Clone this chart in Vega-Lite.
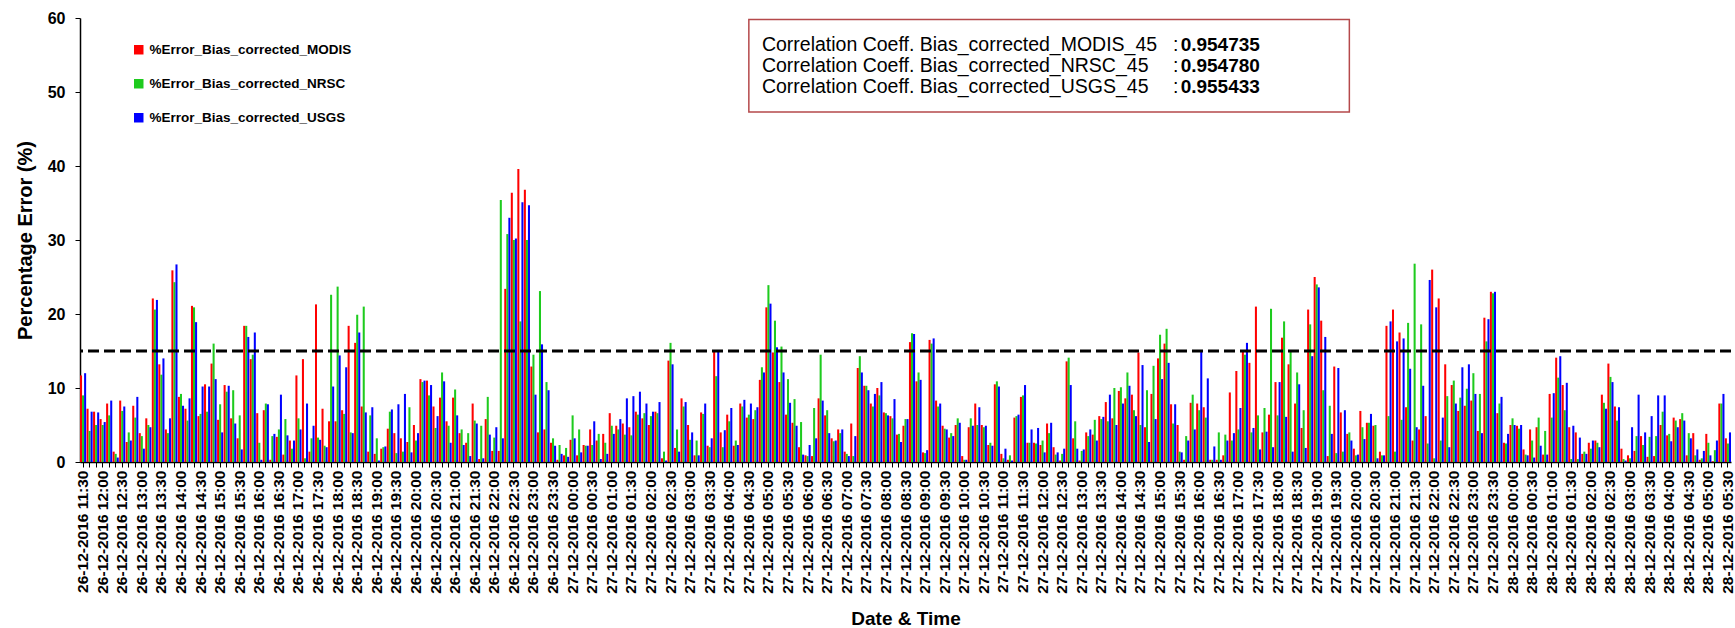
{
 "$schema": "https://vega.github.io/schema/vega-lite/v6.json",
 "width": 1651, "height": 444,
 "autosize": {"type": "none"},
 "padding": {"left": 80, "top": 18, "right": 4, "bottom": 166},
 "background": "white",
 "config": {"view": {"stroke": null}, "font": "Liberation Sans"},
 "data": {"values": [
{"t":"26-12-2016 11:30","M":11.7,"N":9.0,"U":12.0},
{"t":"26-12-2016 11:40","M":7.2,"N":4.2,"U":6.8},
{"t":"26-12-2016 11:50","M":6.8,"N":5.0,"U":6.7},
{"t":"26-12-2016 12:00","M":5.8,"N":5.0,"U":5.4},
{"t":"26-12-2016 12:10","M":7.9,"N":6.3,"U":8.3},
{"t":"26-12-2016 12:20","M":1.4,"N":1.1,"U":0.6},
{"t":"26-12-2016 12:30","M":8.3,"N":6.9,"U":7.5},
{"t":"26-12-2016 12:40","M":2.7,"N":4.0,"U":2.9},
{"t":"26-12-2016 12:50","M":7.6,"N":6.0,"U":8.8},
{"t":"26-12-2016 13:00","M":3.9,"N":3.5,"U":1.8},
{"t":"26-12-2016 13:10","M":5.9,"N":5.0,"U":4.7},
{"t":"26-12-2016 13:20","M":22.1,"N":20.6,"U":21.9},
{"t":"26-12-2016 13:30","M":13.2,"N":11.8,"U":14.0},
{"t":"26-12-2016 13:40","M":4.4,"N":3.9,"U":5.9},
{"t":"26-12-2016 13:50","M":25.9,"N":24.3,"U":26.7},
{"t":"26-12-2016 14:00","M":8.8,"N":9.2,"U":7.6},
{"t":"26-12-2016 14:10","M":7.2,"N":5.6,"U":8.6},
{"t":"26-12-2016 14:20","M":21.1,"N":20.9,"U":18.9},
{"t":"26-12-2016 14:30","M":6.2,"N":6.5,"U":10.2},
{"t":"26-12-2016 14:40","M":10.5,"N":6.8,"U":10.2},
{"t":"26-12-2016 14:50","M":13.3,"N":16.0,"U":11.2},
{"t":"26-12-2016 15:00","M":5.7,"N":7.8,"U":4.0},
{"t":"26-12-2016 15:10","M":10.4,"N":9.5,"U":10.3},
{"t":"26-12-2016 15:20","M":5.9,"N":9.7,"U":5.2},
{"t":"26-12-2016 15:30","M":3.2,"N":6.3,"U":1.7},
{"t":"26-12-2016 15:40","M":18.4,"N":18.4,"U":16.9},
{"t":"26-12-2016 15:50","M":13.9,"N":14.5,"U":17.5},
{"t":"26-12-2016 16:00","M":6.6,"N":2.6,"U":0.3},
{"t":"26-12-2016 16:10","M":7.0,"N":7.9,"U":7.8},
{"t":"26-12-2016 16:20","M":0.3,"N":3.5,"U":3.8},
{"t":"26-12-2016 16:30","M":3.4,"N":4.4,"U":9.1},
{"t":"26-12-2016 16:40","M":1.0,"N":5.8,"U":3.6},
{"t":"26-12-2016 16:50","M":2.9,"N":1.8,"U":2.9},
{"t":"26-12-2016 17:00","M":11.7,"N":5.9,"U":4.4},
{"t":"26-12-2016 17:10","M":13.9,"N":0.5,"U":7.9},
{"t":"26-12-2016 17:20","M":1.4,"N":3.2,"U":4.9},
{"t":"26-12-2016 17:30","M":21.3,"N":3.3,"U":3.0},
{"t":"26-12-2016 17:40","M":7.2,"N":2.2,"U":2.0},
{"t":"26-12-2016 17:50","M":5.5,"N":22.6,"U":10.2},
{"t":"26-12-2016 18:00","M":5.5,"N":23.7,"U":14.4},
{"t":"26-12-2016 18:10","M":7.0,"N":6.5,"U":12.8},
{"t":"26-12-2016 18:20","M":18.4,"N":4.0,"U":3.9},
{"t":"26-12-2016 18:30","M":16.1,"N":19.9,"U":17.5},
{"t":"26-12-2016 18:40","M":7.5,"N":21.0,"U":6.7},
{"t":"26-12-2016 18:50","M":1.4,"N":6.3,"U":7.4},
{"t":"26-12-2016 19:00","M":1.1,"N":3.2,"U":0.2},
{"t":"26-12-2016 19:10","M":1.8,"N":2.0,"U":2.1},
{"t":"26-12-2016 19:20","M":4.5,"N":6.8,"U":7.1},
{"t":"26-12-2016 19:30","M":3.9,"N":1.2,"U":7.8},
{"t":"26-12-2016 19:40","M":3.2,"N":1.4,"U":9.2},
{"t":"26-12-2016 19:50","M":2.7,"N":7.4,"U":1.3},
{"t":"26-12-2016 20:00","M":5.0,"N":2.9,"U":3.9},
{"t":"26-12-2016 20:10","M":11.2,"N":10.8,"U":11.0},
{"t":"26-12-2016 20:20","M":11.0,"N":9.0,"U":10.4},
{"t":"26-12-2016 20:30","M":7.5,"N":4.6,"U":6.2},
{"t":"26-12-2016 20:40","M":8.7,"N":12.1,"U":10.9},
{"t":"26-12-2016 20:50","M":5.5,"N":4.9,"U":2.6},
{"t":"26-12-2016 21:00","M":8.7,"N":9.8,"U":6.3},
{"t":"26-12-2016 21:10","M":3.9,"N":4.4,"U":2.3},
{"t":"26-12-2016 21:20","M":2.6,"N":3.9,"U":0.8},
{"t":"26-12-2016 21:30","M":7.9,"N":5.6,"U":5.2},
{"t":"26-12-2016 21:40","M":0.4,"N":4.9,"U":0.5},
{"t":"26-12-2016 21:50","M":5.8,"N":8.8,"U":3.7},
{"t":"26-12-2016 22:00","M":1.5,"N":3.3,"U":4.7},
{"t":"26-12-2016 22:10","M":1.5,"N":35.4,"U":3.2},
{"t":"26-12-2016 22:20","M":23.4,"N":30.8,"U":33.0},
{"t":"26-12-2016 22:30","M":36.4,"N":30.0,"U":30.2},
{"t":"26-12-2016 22:40","M":39.6,"N":19.0,"U":35.1},
{"t":"26-12-2016 22:50","M":36.8,"N":30.0,"U":34.7},
{"t":"26-12-2016 23:00","M":12.9,"N":14.5,"U":9.1},
{"t":"26-12-2016 23:10","M":4.0,"N":23.1,"U":15.9},
{"t":"26-12-2016 23:20","M":4.4,"N":10.8,"U":9.7},
{"t":"26-12-2016 23:30","M":2.6,"N":3.2,"U":2.2},
{"t":"26-12-2016 23:40","M":0.3,"N":2.3,"U":1.1},
{"t":"26-12-2016 23:50","M":0.9,"N":1.9,"U":0.7},
{"t":"27-12-2016 00:00","M":3.0,"N":6.3,"U":3.2},
{"t":"27-12-2016 00:10","M":0.9,"N":4.4,"U":1.3},
{"t":"27-12-2016 00:20","M":2.3,"N":2.2,"U":2.2},
{"t":"27-12-2016 00:30","M":4.4,"N":2.3,"U":5.5},
{"t":"27-12-2016 00:40","M":2.9,"N":3.8,"U":0.4},
{"t":"27-12-2016 00:50","M":3.8,"N":2.6,"U":1.1},
{"t":"27-12-2016 01:00","M":6.6,"N":4.9,"U":3.8},
{"t":"27-12-2016 01:10","M":4.9,"N":4.4,"U":5.8},
{"t":"27-12-2016 01:20","M":5.2,"N":3.7,"U":8.6},
{"t":"27-12-2016 01:30","M":4.7,"N":3.6,"U":8.9},
{"t":"27-12-2016 01:40","M":6.8,"N":6.4,"U":9.5},
{"t":"27-12-2016 01:50","M":5.9,"N":6.6,"U":7.9},
{"t":"27-12-2016 02:00","M":5.0,"N":6.2,"U":6.8},
{"t":"27-12-2016 02:10","M":6.8,"N":6.6,"U":8.1},
{"t":"27-12-2016 02:20","M":0.5,"N":1.4,"U":0.2},
{"t":"27-12-2016 02:30","M":13.7,"N":16.1,"U":13.2},
{"t":"27-12-2016 02:40","M":1.9,"N":4.4,"U":1.4},
{"t":"27-12-2016 02:50","M":8.6,"N":7.5,"U":8.1},
{"t":"27-12-2016 03:00","M":5.0,"N":3.0,"U":4.0},
{"t":"27-12-2016 03:10","M":0.9,"N":2.9,"U":0.9},
{"t":"27-12-2016 03:20","M":6.7,"N":6.5,"U":7.9},
{"t":"27-12-2016 03:30","M":2.2,"N":2.0,"U":3.2},
{"t":"27-12-2016 03:40","M":15.1,"N":11.6,"U":14.9},
{"t":"27-12-2016 03:50","M":4.0,"N":2.0,"U":4.3},
{"t":"27-12-2016 04:00","M":6.4,"N":5.5,"U":7.3},
{"t":"27-12-2016 04:10","M":2.2,"N":2.9,"U":2.3},
{"t":"27-12-2016 04:20","M":7.9,"N":7.5,"U":8.4},
{"t":"27-12-2016 04:30","M":6.0,"N":6.4,"U":7.9},
{"t":"27-12-2016 04:40","M":5.8,"N":7.0,"U":7.4},
{"t":"27-12-2016 04:50","M":11.1,"N":12.8,"U":12.1},
{"t":"27-12-2016 05:00","M":20.9,"N":23.9,"U":21.4},
{"t":"27-12-2016 05:10","M":14.8,"N":19.1,"U":15.5},
{"t":"27-12-2016 05:20","M":10.8,"N":15.6,"U":12.1},
{"t":"27-12-2016 05:30","M":6.4,"N":11.2,"U":8.0},
{"t":"27-12-2016 05:40","M":5.3,"N":8.5,"U":4.9},
{"t":"27-12-2016 05:50","M":2.0,"N":5.4,"U":1.0},
{"t":"27-12-2016 06:00","M":0.9,"N":0.8,"U":2.3},
{"t":"27-12-2016 06:10","M":0.8,"N":7.3,"U":3.2},
{"t":"27-12-2016 06:20","M":8.6,"N":14.5,"U":8.3},
{"t":"27-12-2016 06:30","M":6.3,"N":7.0,"U":3.9},
{"t":"27-12-2016 06:40","M":3.2,"N":2.8,"U":2.9},
{"t":"27-12-2016 06:50","M":4.4,"N":3.9,"U":4.4},
{"t":"27-12-2016 07:00","M":1.4,"N":1.1,"U":0.8},
{"t":"27-12-2016 07:10","M":5.2,"N":0.8,"U":3.5},
{"t":"27-12-2016 07:20","M":12.7,"N":14.3,"U":12.1},
{"t":"27-12-2016 07:30","M":10.3,"N":10.3,"U":9.7},
{"t":"27-12-2016 07:40","M":7.9,"N":7.5,"U":9.2},
{"t":"27-12-2016 07:50","M":10.0,"N":9.0,"U":10.8},
{"t":"27-12-2016 08:00","M":6.7,"N":6.6,"U":6.3},
{"t":"27-12-2016 08:10","M":6.2,"N":5.9,"U":8.5},
{"t":"27-12-2016 08:20","M":3.7,"N":3.8,"U":2.7},
{"t":"27-12-2016 08:30","M":4.9,"N":5.8,"U":5.8},
{"t":"27-12-2016 08:40","M":16.2,"N":17.4,"U":17.3},
{"t":"27-12-2016 08:50","M":10.9,"N":12.1,"U":11.1},
{"t":"27-12-2016 09:00","M":1.3,"N":1.2,"U":1.6},
{"t":"27-12-2016 09:10","M":16.5,"N":16.0,"U":16.7},
{"t":"27-12-2016 09:20","M":8.3,"N":7.5,"U":7.9},
{"t":"27-12-2016 09:30","M":4.9,"N":4.5,"U":4.4},
{"t":"27-12-2016 09:40","M":3.3,"N":3.9,"U":3.5},
{"t":"27-12-2016 09:50","M":5.0,"N":5.9,"U":5.3},
{"t":"27-12-2016 10:00","M":0.8,"N":0.3,"U":0.3},
{"t":"27-12-2016 10:10","M":4.7,"N":5.9,"U":4.9},
{"t":"27-12-2016 10:20","M":7.9,"N":5.0,"U":7.4},
{"t":"27-12-2016 10:30","M":5.0,"N":4.7,"U":4.9},
{"t":"27-12-2016 10:40","M":2.3,"N":2.6,"U":2.2},
{"t":"27-12-2016 10:50","M":10.5,"N":10.9,"U":10.2},
{"t":"27-12-2016 11:00","M":1.1,"N":0.5,"U":1.8},
{"t":"27-12-2016 11:10","M":0.3,"N":0.9,"U":0.2},
{"t":"27-12-2016 11:20","M":6.0,"N":6.2,"U":6.4},
{"t":"27-12-2016 11:30","M":8.8,"N":9.0,"U":10.4},
{"t":"27-12-2016 11:40","M":2.6,"N":2.6,"U":4.4},
{"t":"27-12-2016 11:50","M":2.6,"N":2.5,"U":4.6},
{"t":"27-12-2016 12:00","M":2.3,"N":2.9,"U":1.3},
{"t":"27-12-2016 12:10","M":5.2,"N":3.9,"U":5.3},
{"t":"27-12-2016 12:20","M":2.0,"N":1.0,"U":1.3},
{"t":"27-12-2016 12:30","M":0.2,"N":1.1,"U":1.8},
{"t":"27-12-2016 12:40","M":13.6,"N":14.1,"U":10.4},
{"t":"27-12-2016 12:50","M":3.2,"N":5.5,"U":1.8},
{"t":"27-12-2016 13:00","M":0.2,"N":1.5,"U":1.7},
{"t":"27-12-2016 13:10","M":4.0,"N":3.5,"U":4.4},
{"t":"27-12-2016 13:20","M":3.7,"N":5.7,"U":2.9},
{"t":"27-12-2016 13:30","M":6.2,"N":5.8,"U":6.1},
{"t":"27-12-2016 13:40","M":8.1,"N":5.5,"U":9.1},
{"t":"27-12-2016 13:50","M":5.9,"N":10.0,"U":5.0},
{"t":"27-12-2016 14:00","M":9.6,"N":10.1,"U":7.9},
{"t":"27-12-2016 14:10","M":8.6,"N":12.1,"U":10.3},
{"t":"27-12-2016 14:20","M":9.1,"N":7.0,"U":6.2},
{"t":"27-12-2016 14:30","M":14.8,"N":5.0,"U":13.1},
{"t":"27-12-2016 14:40","M":4.7,"N":9.7,"U":2.7},
{"t":"27-12-2016 14:50","M":9.2,"N":13.0,"U":5.8},
{"t":"27-12-2016 15:00","M":14.0,"N":17.2,"U":11.2},
{"t":"27-12-2016 15:10","M":16.0,"N":18.0,"U":13.4},
{"t":"27-12-2016 15:20","M":7.8,"N":5.2,"U":7.8},
{"t":"27-12-2016 15:30","M":5.0,"N":1.4,"U":1.3},
{"t":"27-12-2016 15:40","M":0.3,"N":3.5,"U":2.9},
{"t":"27-12-2016 15:50","M":8.0,"N":9.1,"U":4.4},
{"t":"27-12-2016 16:00","M":7.9,"N":7.0,"U":14.9},
{"t":"27-12-2016 16:10","M":7.4,"N":6.0,"U":11.3},
{"t":"27-12-2016 16:20","M":0.3,"N":0.3,"U":2.1},
{"t":"27-12-2016 16:30","M":0.3,"N":4.0,"U":0.3},
{"t":"27-12-2016 16:40","M":0.9,"N":3.7,"U":2.9},
{"t":"27-12-2016 16:50","M":9.4,"N":2.9,"U":3.9},
{"t":"27-12-2016 17:00","M":12.3,"N":4.4,"U":7.3},
{"t":"27-12-2016 17:10","M":15.0,"N":14.5,"U":16.1},
{"t":"27-12-2016 17:20","M":13.4,"N":4.0,"U":4.6},
{"t":"27-12-2016 17:30","M":21.0,"N":6.3,"U":1.7},
{"t":"27-12-2016 17:40","M":4.0,"N":7.3,"U":4.1},
{"t":"27-12-2016 17:50","M":6.4,"N":20.7,"U":2.0},
{"t":"27-12-2016 18:00","M":10.8,"N":6.3,"U":10.8},
{"t":"27-12-2016 18:10","M":16.8,"N":19.0,"U":6.1},
{"t":"27-12-2016 18:20","M":13.2,"N":14.9,"U":1.4},
{"t":"27-12-2016 18:30","M":7.9,"N":12.1,"U":10.5},
{"t":"27-12-2016 18:40","M":4.6,"N":7.0,"U":1.9},
{"t":"27-12-2016 18:50","M":20.6,"N":18.6,"U":14.3},
{"t":"27-12-2016 19:00","M":25.0,"N":24.0,"U":23.6},
{"t":"27-12-2016 19:10","M":19.1,"N":9.7,"U":16.9},
{"t":"27-12-2016 19:20","M":0.8,"N":7.6,"U":3.8},
{"t":"27-12-2016 19:30","M":12.9,"N":1.2,"U":12.7},
{"t":"27-12-2016 19:40","M":6.7,"N":1.4,"U":7.0},
{"t":"27-12-2016 19:50","M":3.8,"N":4.0,"U":2.9},
{"t":"27-12-2016 20:00","M":1.8,"N":0.9,"U":1.0},
{"t":"27-12-2016 20:10","M":6.9,"N":4.7,"U":3.1},
{"t":"27-12-2016 20:20","M":5.3,"N":5.3,"U":6.5},
{"t":"27-12-2016 20:30","M":4.9,"N":5.0,"U":0.5},
{"t":"27-12-2016 20:40","M":1.4,"N":0.9,"U":0.9},
{"t":"27-12-2016 20:50","M":18.4,"N":6.2,"U":19.0},
{"t":"27-12-2016 21:00","M":20.6,"N":1.4,"U":16.3},
{"t":"27-12-2016 21:10","M":17.5,"N":5.7,"U":16.7},
{"t":"27-12-2016 21:20","M":7.4,"N":18.8,"U":12.6},
{"t":"27-12-2016 21:30","M":2.9,"N":26.8,"U":4.7},
{"t":"27-12-2016 21:40","M":4.4,"N":18.6,"U":10.3},
{"t":"27-12-2016 21:50","M":6.2,"N":2.5,"U":24.6},
{"t":"27-12-2016 22:00","M":26.0,"N":0.5,"U":20.9},
{"t":"27-12-2016 22:10","M":22.1,"N":2.9,"U":6.0},
{"t":"27-12-2016 22:20","M":13.2,"N":8.9,"U":2.0},
{"t":"27-12-2016 22:30","M":10.4,"N":11.0,"U":7.9},
{"t":"27-12-2016 22:40","M":6.9,"N":8.7,"U":12.8},
{"t":"27-12-2016 22:50","M":7.6,"N":9.9,"U":13.2},
{"t":"27-12-2016 23:00","M":8.3,"N":12.0,"U":9.2},
{"t":"27-12-2016 23:10","M":4.2,"N":9.2,"U":3.9},
{"t":"27-12-2016 23:20","M":19.5,"N":16.3,"U":19.3},
{"t":"27-12-2016 23:30","M":23.0,"N":22.8,"U":23.0},
{"t":"27-12-2016 23:40","M":6.6,"N":7.9,"U":8.8},
{"t":"27-12-2016 23:50","M":2.6,"N":2.5,"U":3.8},
{"t":"28-12-2016 00:00","M":5.0,"N":5.9,"U":5.0},
{"t":"28-12-2016 00:10","M":4.9,"N":4.5,"U":5.0},
{"t":"28-12-2016 00:20","M":1.7,"N":1.0,"U":0.9},
{"t":"28-12-2016 00:30","M":4.4,"N":2.9,"U":0.6},
{"t":"28-12-2016 00:40","M":4.7,"N":6.0,"U":2.2},
{"t":"28-12-2016 00:50","M":1.0,"N":4.2,"U":1.0},
{"t":"28-12-2016 01:00","M":9.2,"N":6.0,"U":9.3},
{"t":"28-12-2016 01:10","M":14.1,"N":11.4,"U":14.3},
{"t":"28-12-2016 01:20","M":10.4,"N":7.0,"U":10.7},
{"t":"28-12-2016 01:30","M":4.7,"N":0.4,"U":4.9},
{"t":"28-12-2016 01:40","M":4.0,"N":0.4,"U":3.3},
{"t":"28-12-2016 01:50","M":1.1,"N":1.4,"U":1.1},
{"t":"28-12-2016 02:00","M":2.6,"N":1.8,"U":2.9},
{"t":"28-12-2016 02:10","M":2.9,"N":2.6,"U":2.0},
{"t":"28-12-2016 02:20","M":9.1,"N":8.0,"U":7.2},
{"t":"28-12-2016 02:30","M":13.3,"N":11.5,"U":10.8},
{"t":"28-12-2016 02:40","M":7.5,"N":5.6,"U":7.4},
{"t":"28-12-2016 02:50","M":1.8,"N":0.4,"U":0.2},
{"t":"28-12-2016 03:00","M":0.9,"N":0.5,"U":4.7},
{"t":"28-12-2016 03:10","M":1.5,"N":3.5,"U":9.1},
{"t":"28-12-2016 03:20","M":3.5,"N":2.3,"U":4.0},
{"t":"28-12-2016 03:30","M":0.7,"N":3.4,"U":6.2},
{"t":"28-12-2016 03:40","M":0.8,"N":3.5,"U":9.0},
{"t":"28-12-2016 03:50","M":5.0,"N":6.8,"U":9.0},
{"t":"28-12-2016 04:00","M":3.6,"N":3.8,"U":2.8},
{"t":"28-12-2016 04:10","M":6.0,"N":5.6,"U":4.7},
{"t":"28-12-2016 04:20","M":5.8,"N":6.6,"U":5.6},
{"t":"28-12-2016 04:30","M":0.9,"N":3.9,"U":3.2},
{"t":"28-12-2016 04:40","M":3.9,"N":0.9,"U":1.7},
{"t":"28-12-2016 04:50","M":0.3,"N":0.5,"U":1.5},
{"t":"28-12-2016 05:00","M":3.8,"N":2.6,"U":0.9},
{"t":"28-12-2016 05:10","M":0.1,"N":1.6,"U":2.9},
{"t":"28-12-2016 05:20","M":7.9,"N":7.9,"U":9.2},
{"t":"28-12-2016 05:30","M":3.2,"N":2.5,"U":4.0}
 ]},
 "layer": [
  {
   "transform": [{"fold": ["M", "N", "U"], "as": ["s", "v"]}],
   "mark": {"type": "bar"},
   "encoding": {
    "x": {"field": "t", "type": "ordinal",
          "scale": {"paddingInner": 0.06, "paddingOuter": 0},
          "axis": {"title": "Date & Time", "titleFontSize": 19, "titleFontWeight": "bold", "titleColor": "black", "titlePadding": 16,
                   "labelAngle": -90, "labelFontSize": 15.5, "labelFontWeight": "bold", "labelColor": "black", "labelPadding": 3,
                   "labelOverlap": false, "labelBound": false, "labelFlush": false,
                   "labelExpr": "(slice(datum.label, -2) == '00' || slice(datum.label, -2) == '30') ? datum.label : ''",
                   "tickColor": "black", "tickSize": 5, "domainColor": "black", "domainWidth": 1.5}},
    "xOffset": {"field": "s", "type": "nominal", "scale": {"domain": ["M", "N", "U"], "paddingInner": 0}},
    "y": {"field": "v", "type": "quantitative", "scale": {"domain": [0, 60], "nice": false},
          "axis": {"title": "Percentage Error (%)", "titleFontSize": 20, "titleFontWeight": "bold", "titleColor": "black", "titlePadding": 12,
                   "values": [0, 5, 10, 15, 20, 25, 30, 35, 40, 45, 50, 55, 60], "grid": false,
                   "labelFontSize": 16, "labelFontWeight": "bold", "labelColor": "black", "labelPadding": 10,
                   "tickColor": "black", "tickSize": 5, "domainColor": "black", "domainWidth": 1.5}},
    "color": {"field": "s", "type": "nominal",
              "scale": {"domain": ["M", "N", "U"], "range": ["#ff0000", "#1ecb1e", "#0000ff"]},
              "legend": {"title": null, "orient": "none", "legendX": 52, "legendY": 25, "direction": "vertical",
                         "symbolType": "square", "symbolSize": 90, "symbolStrokeWidth": 0,
                         "labelFontSize": 13.5, "labelFontWeight": "bold", "labelColor": "black", "labelOffset": 4,
                         "labelLimit": 0, "rowPadding": 19,
                         "labelExpr": "datum.label == 'M' ? '%Error_Bias_corrected_MODIS' : (datum.label == 'N' ? '%Error_Bias_corrected_NRSC' : '%Error_Bias_corrected_USGS')"}}
   }
  },
  {
   "data": {"values": [{}]},
   "mark": {"type": "rule", "strokeDash": [11, 5], "strokeWidth": 3, "color": "black"},
   "encoding": {"y": {"datum": 15, "type": "quantitative"}}
  },
  {
   "data": {"values": [{}]},
   "mark": {"type": "rect", "fill": "white", "stroke": "#b5494b", "strokeWidth": 1.5},
   "encoding": {
    "x": {"datum": "27-12-2016 04:30", "type": "ordinal"},
    "x2": {"datum": "27-12-2016 19:50"},
    "y": {"datum": 59.8, "type": "quantitative"},
    "y2": {"datum": 47.3}
   }
  },
  {
   "data": {"values": [{}]},
   "mark": {"type": "text", "text": ["Correlation Coeff. Bias_corrected_MODIS_45", "Correlation Coeff. Bias_corrected_NRSC_45", "Correlation Coeff. Bias_corrected_USGS_45"],
            "align": "left", "baseline": "middle", "lineHeight": 21, "fontSize": 19.5, "color": "black"},
   "encoding": {"x": {"datum": "27-12-2016 04:50", "type": "ordinal"}, "y": {"datum": 56.3, "type": "quantitative"}}
  },
  {
   "data": {"values": [{}]},
   "mark": {"type": "text", "text": [":", ":", ":"],
            "align": "left", "baseline": "middle", "lineHeight": 21, "fontSize": 19.5, "color": "black"},
   "encoding": {"x": {"datum": "27-12-2016 15:20", "type": "ordinal"}, "y": {"datum": 56.3, "type": "quantitative"}}
  },
  {
   "data": {"values": [{}]},
   "mark": {"type": "text", "text": ["0.954735", "0.954780", "0.955433"],
            "align": "left", "baseline": "middle", "lineHeight": 21, "fontSize": 19, "fontWeight": "bold", "color": "black", "dx": 1},
   "encoding": {"x": {"datum": "27-12-2016 15:30", "type": "ordinal"}, "y": {"datum": 56.3, "type": "quantitative"}}
  }
 ]
}
